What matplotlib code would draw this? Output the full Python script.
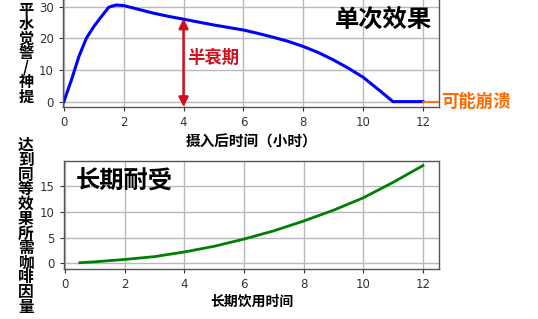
"""Caffeine: single-dose effect and long-term tolerance."""

import matplotlib

matplotlib.use("Agg")
import matplotlib.pyplot as plt

CJK = ["Noto Sans CJK SC", "DejaVu Sans"]

# single dose curve (hours after intake -> alertness level)
single_t = [0, 0.25, 0.5, 0.75, 1, 1.25, 1.5, 1.75, 2, 2.5, 3, 3.5, 4, 4.5, 5,
            5.5, 6, 6.5, 7, 7.5, 8, 8.5, 9, 9.5, 10, 10.5, 11, 12]
single_level = [0, 6.8, 14.2, 20.0, 23.7, 26.8, 29.8, 30.5, 30.3, 29.1, 27.9,
                26.9, 26.0, 25.1, 24.2, 23.4, 22.6, 21.5, 20.3, 19.0, 17.4,
                15.5, 13.2, 10.6, 7.7, 3.9, 0, 0]
collapse_t = [12, 12.5]
collapse_level = [0, 0]
half_life_t = 4
half_life_top = 26.2

# long-term tolerance (years of use -> caffeine needed)
tolerance_t = [0.5, 1, 2, 3, 4, 5, 6, 7, 8, 9, 10, 11, 12]
tolerance_dose = [0.12, 0.3, 0.75, 1.3, 2.2, 3.3, 4.7, 6.3, 8.2, 10.3, 12.7,
                  15.7, 18.95]

xticks = [0, 2, 4, 6, 8, 10, 12]
top_yticks = [0, 10, 20, 30]
bottom_yticks = [0, 5, 10, 15]

top_ylabel = "平水觉警/神提"
bottom_ylabel = "达到同等效果所需咖啡因量"


def style_axes(ax):
    ax.grid(True, color="#b8b8c0", linewidth=1.0)
    ax.set_axisbelow(True)
    for spine in ax.spines.values():
        spine.set_color("#555555")
        spine.set_linewidth(1.0)
    ax.tick_params(labelsize=8.5, colors="#333333", length=3, width=0.8)
    ax.set_xticks(xticks)


fig = plt.figure(figsize=(5.38, 3.19), dpi=100)

# --- top: single dose ---
ax1 = fig.add_axes([0.1171, 0.6636, 0.699, 0.3407])
style_axes(ax1)
ax1.plot(single_t, single_level, color="#0000ff", linewidth=2.2)
ax1.plot(collapse_t, collapse_level, color="#ff6a00", linewidth=1.3,
         clip_on=False)
ax1.annotate("", xy=(half_life_t, half_life_top), xytext=(half_life_t, -1.7),
             arrowprops=dict(arrowstyle="<|-|>", color="#d0101e", lw=1.8,
                             mutation_scale=14, shrinkA=0, shrinkB=0))
ax1.text(4.12, 13.8, "半衰期", color="#d0101e", fontsize=12.5,
         fontweight="bold", family=CJK, va="center", ha="left")
ax1.text(12.3, 25.8, "单次效果", color="black", fontsize=17.5,
         fontweight="bold", family=CJK, va="center", ha="right")
ax1.text(12.6, 0, "可能崩溃", color="#ff6a00", fontsize=12.5,
         fontweight="bold", family=CJK, va="center", ha="left")
ax1.set_xlim(-0.03, 12.54)
ax1.set_ylim(-1.8, 32.5)
ax1.set_yticks(top_yticks)
ax1.set_xlabel("摄入后时间（小时）", fontsize=10.5, fontweight="bold",
               family=CJK, labelpad=3)

# --- bottom: tolerance ---
ax2 = fig.add_axes([0.119, 0.1567, 0.697, 0.3395])
style_axes(ax2)
ax2.plot(tolerance_t, tolerance_dose, color="#008000", linewidth=2.0)
ax2.text(0.35, 15.8, "长期耐受", color="black", fontsize=17.5,
         fontweight="bold", family=CJK, va="center", ha="left")
ax2.set_xlim(-0.03, 12.54)
ax2.set_ylim(-1.1, 19.9)
ax2.set_yticks(bottom_yticks)
ax2.set_xlabel("长期饮用时间", fontsize=10, fontweight="bold", family=CJK,
               labelpad=3)

# stacked vertical labels
fig.text(26 / 538, 1 - 53 / 319, "\n".join(top_ylabel), fontsize=11,
         fontweight="bold", family=CJK, ha="center", va="center",
         linespacing=0.88)
fig.text(26 / 538, 1 - 226 / 319, "\n".join(bottom_ylabel), fontsize=11.3,
         fontweight="bold", family=CJK, ha="center", va="center",
         linespacing=0.9)

fig.savefig("out.png", dpi=100)
